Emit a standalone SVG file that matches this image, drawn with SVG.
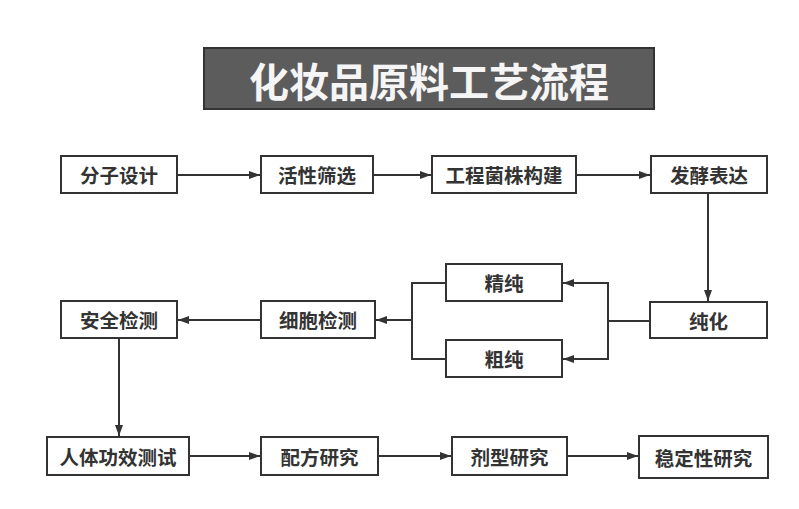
<svg xmlns="http://www.w3.org/2000/svg" width="799" height="509" viewBox="0 0 799 509">
<defs>
<marker id="ah" markerWidth="12" markerHeight="10" refX="11" refY="5" orient="auto" markerUnits="userSpaceOnUse">
<path d="M0,1 L11,5 L0,9 Z" fill="#333"/>
</marker>
<style>
.box{fill:#fff;stroke:#333;stroke-width:2}
.t{font-family:"Noto Sans CJK SC","Noto Sans",sans-serif;font-weight:bold;font-size:19.5px;fill:#333;text-anchor:middle;dominant-baseline:central}
.c{fill:none;stroke:#333;stroke-width:2}
</style>
</defs>
<rect width="799" height="509" fill="#fff"/>
<g id="title">
<rect x="204" y="48" width="450" height="61" fill="#5c5c5c" stroke="#333" stroke-width="2"/>
<text x="429" y="80" font-family="'Noto Sans CJK SC',sans-serif" font-weight="bold" font-size="40" fill="#f5f5f5" text-anchor="middle" dominant-baseline="central">化妆品原料工艺流程</text>
</g>
<g id="n1"><rect class="box" x="61" y="156" width="116" height="37"/><text class="t" x="119" y="174.5">分子设计</text></g>
<g id="n2"><rect class="box" x="261" y="156" width="112" height="37"/><text class="t" x="317" y="174.5">活性筛选</text></g>
<g id="n3"><rect class="box" x="432" y="156" width="144" height="37"/><text class="t" x="504" y="174.5">工程菌株构建</text></g>
<g id="n4"><rect class="box" x="651" y="156" width="116" height="37"/><text class="t" x="709" y="174.5">发酵表达</text></g>
<g id="n5"><rect class="box" x="650" y="302" width="117" height="36"/><text class="t" x="708.5" y="320">纯化</text></g>
<g id="n6"><rect class="box" x="446" y="264" width="116" height="37"/><text class="t" x="504" y="282.5">精纯</text></g>
<g id="n7"><rect class="box" x="446" y="340" width="116" height="37"/><text class="t" x="504" y="358.5">粗纯</text></g>
<g id="n8"><rect class="box" x="261" y="301" width="114" height="37"/><text class="t" x="318" y="319.5">细胞检测</text></g>
<g id="n9"><rect class="box" x="61" y="301" width="116" height="37"/><text class="t" x="119" y="319.5">安全检测</text></g>
<g id="n10"><rect class="box" x="47" y="437" width="142" height="38"/><text class="t" x="118" y="456">人体功效测试</text></g>
<g id="n11"><rect class="box" x="261" y="437" width="117" height="38"/><text class="t" x="319.5" y="456">配方研究</text></g>
<g id="n12"><rect class="box" x="452" y="437" width="115" height="38"/><text class="t" x="509.5" y="456">剂型研究</text></g>
<g id="n13"><rect class="box" x="639" y="436" width="129" height="42"/><text class="t" x="703.5" y="457">稳定性研究</text></g>
<g id="connectors">
<path class="c" d="M177,175 H260" marker-end="url(#ah)"/>
<path class="c" d="M373,175 H431" marker-end="url(#ah)"/>
<path class="c" d="M576,175 H650" marker-end="url(#ah)"/>
<path class="c" d="M708,193 V301" marker-end="url(#ah)"/>
<path class="c" d="M650,321 H608 V283 H563" marker-end="url(#ah)"/>
<path class="c" d="M608,321 V359 H563" marker-end="url(#ah)"/>
<path class="c" d="M446,283 H412 V359 H446"/>
<path class="c" d="M412,320 H376" marker-end="url(#ah)"/>
<path class="c" d="M261,320 H178" marker-end="url(#ah)"/>
<path class="c" d="M119,338 V436" marker-end="url(#ah)"/>
<path class="c" d="M189,456 H260" marker-end="url(#ah)"/>
<path class="c" d="M378,456 H451" marker-end="url(#ah)"/>
<path class="c" d="M567,456 H638" marker-end="url(#ah)"/>
</g>
</svg>
